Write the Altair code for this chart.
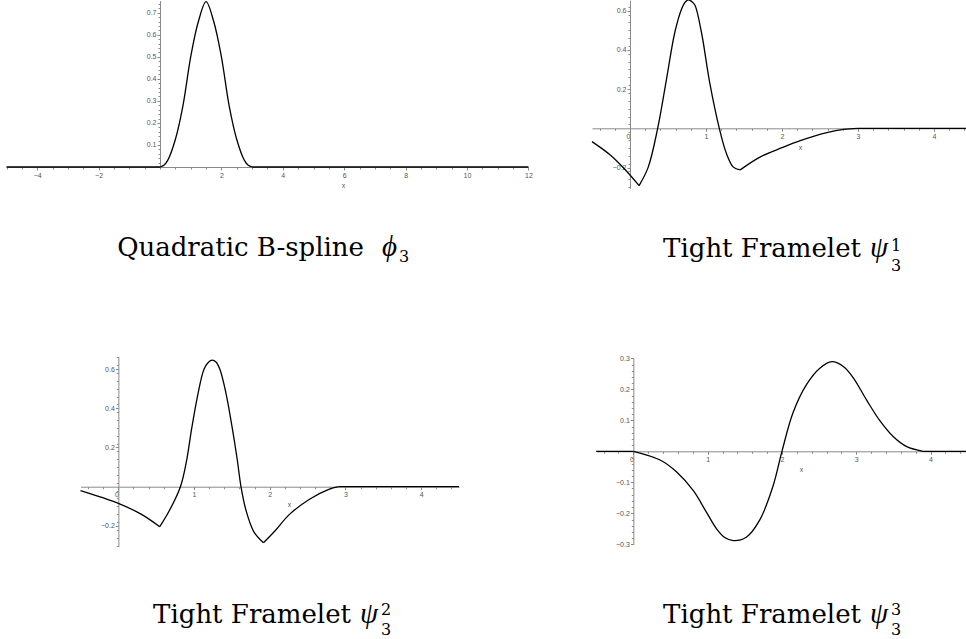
import altair as alt
import pandas as pd

W, H = 966, 639

# ---------------- curve samples ----------------
# Quadratic B-spline phi_3 (flat pieces kept as their own segments)
bspline_x = [-5, 0,
             0, 0.125, 0.25, 0.5, 0.75, 1.0, 1.25, 1.5, 1.75, 2.0, 2.25, 2.5, 2.75, 2.875, 3.0,
             3.0, 12]
bspline_y = [0, 0,
             0, 0.008, 0.03, 0.125, 0.28, 0.5, 0.66, 0.75, 0.66, 0.5, 0.28, 0.125, 0.03, 0.008, 0,
             0, 0]
bspline_seg = [0] * 2 + [1] * 15 + [2] * 2

# Tight framelet psi_3^1 (pieces split at the corners)
psi1_x = [-0.5, -0.26, -0.09, 0.12,
          0.12, 0.24, 0.364, 0.48, 0.59, 0.68, 0.725, 0.77, 0.815, 0.855, 0.94, 1.05, 1.175, 1.27, 1.36, 1.45,
          1.45, 1.71, 2.0, 2.24, 2.59, 2.81, 3.0,
          3.0, 4.5]
psi1_y = [-0.068, -0.136, -0.2, -0.292,
          -0.292, -0.198, 0, 0.25, 0.49, 0.61, 0.643, 0.655, 0.646, 0.628, 0.49, 0.23, 0, -0.13, -0.198, -0.212,
          -0.212, -0.147, -0.099, -0.063, -0.022, -0.005, 0,
          0, 0]
psi1_seg = [0] * 4 + [1] * 16 + [2] * 7 + [3] * 2

# Tight framelet psi_3^2
psi2_x = [-0.5, 0.0, 0.3, 0.547,
          0.547, 0.678, 0.82, 0.9, 0.97, 1.05, 1.13, 1.19, 1.24, 1.29, 1.34, 1.42, 1.5, 1.57, 1.62,
          1.685, 1.79, 1.917,
          1.917, 2.08, 2.25, 2.52, 2.78, 2.91,
          2.91, 4.5]
psi2_y = [-0.02, -0.085, -0.14, -0.204,
          -0.204, -0.119, 0, 0.13, 0.30, 0.47, 0.598, 0.635, 0.646, 0.636, 0.6, 0.48, 0.31, 0.14, 0,
          -0.119, -0.23, -0.286,
          -0.286, -0.221, -0.145, -0.065, -0.014, 0,
          0, 0]
psi2_seg = [0] * 4 + [1] * 18 + [2] * 6 + [3] * 2

# Tight framelet psi_3^3
psi3_x = [-0.5, 0,
          0, 0.36, 0.58, 0.81, 0.987, 1.12, 1.23, 1.345, 1.52, 1.70, 1.88, 2.0, 2.15, 2.33,
          2.51, 2.67, 2.83, 2.96, 3.14, 3.32, 3.5, 3.68, 3.9,
          3.9, 4.5]
psi3_y = [0, 0,
          0, -0.028, -0.066, -0.128, -0.198, -0.25, -0.278, -0.288, -0.277, -0.222, -0.112, 0, 0.125, 0.215,
          0.268, 0.289, 0.273, 0.237, 0.165, 0.098, 0.047, 0.015, 0,
          0, 0]
psi3_seg = [0] * 2 + [1] * 23 + [2] * 2

# ---------------- tick values ----------------
bs_xticks = [-4, -2, 2, 4, 6, 8, 10, 12]
bs_yticks = [0.1, 0.2, 0.3, 0.4, 0.5, 0.6, 0.7]
bs_xminor = [-5 + 0.5 * i for i in range(35)]
bs_yminor = [round(0.02 * i, 2) for i in range(38)]

fr_xticks = [0, 1, 2, 3, 4]
fr_xminor = [round(-0.4 + 0.2 * i, 2) for i in range(25)]
fr_yticks = [-0.2, 0.2, 0.4, 0.6]
fr_yminor = [round(-0.3 + 0.04 * i, 2) for i in range(25)]

psi3_yticks = [-0.3, -0.2, -0.1, 0.1, 0.2, 0.3]
psi3_yminor = [round(-0.3 + 0.02 * i, 2) for i in range(31)]

LABEL_FONT = "Liberation Sans"
AXIS_GRAY = "#8a8a8a"
LABEL_GRAY = "#555555"
SERIF = "DejaVu Serif"
GREEK = "Liberation Serif"


def frame(x, y, seg):
    return pd.DataFrame({"x": x, "y": y, "seg": seg})


def to_px(v, dom, rng):
    return rng[0] + (v - dom[0]) / (dom[1] - dom[0]) * (rng[1] - rng[0])


def panel(df, xdom, xrng, ydom, yrng, xticks, yticks, xminor, yminor, title_x, title_dy):
    x0 = to_px(0, xdom, xrng)
    y0 = to_px(0, ydom, yrng)
    xs = alt.Scale(domain=xdom, range=xrng, nice=False, zero=False)
    ys = alt.Scale(domain=ydom, range=yrng, nice=False, zero=False)
    common = dict(grid=False, labelFont=LABEL_FONT, labelFontSize=7, labelColor=LABEL_GRAY,
                  domainColor=AXIS_GRAY, tickColor=AXIS_GRAY, domainWidth=1, tickWidth=1,
                  labelFlush=False, labelOverlap=False)
    xaxis = alt.Axis(orient="bottom", offset=y0 - H, values=xticks, tickSize=3, labelPadding=1,
                     title="x", titleX=title_x, titleY=title_dy, titleFont=LABEL_FONT,
                     titleFontSize=7, titleFontWeight="normal", titleColor=LABEL_GRAY,
                     titleBaseline="middle", titleAlign="center",
                     labelAlign={"condition": {"test": "datum.value == 0", "value": "right"},
                                 "value": "center"},
                     **common)
    yaxis = alt.Axis(orient="left", offset=-x0, values=yticks, tickSize=3, labelPadding=1,
                     title=None, **common)
    line = alt.Chart(df).mark_line(color="black", strokeWidth=1.3, interpolate="catmull-rom").encode(
        x=alt.X("x:Q", scale=xs, axis=xaxis),
        y=alt.Y("y:Q", scale=ys, axis=yaxis),
        detail="seg:N",
    )
    minor_x = alt.Axis(orient="bottom", offset=y0 - H, values=xminor, labels=False, domain=False,
                       tickSize=2, tickColor=AXIS_GRAY, grid=False, title=None)
    minor_y = alt.Axis(orient="left", offset=-x0, values=yminor, labels=False, domain=False,
                       tickSize=2, tickColor=AXIS_GRAY, grid=False, title=None)
    minor = alt.Chart(df).mark_line(opacity=0).encode(
        x=alt.X("x:Q", scale=xs, axis=minor_x),
        y=alt.Y("y:Q", scale=ys, axis=minor_y),
    )
    return [minor, line]


def text(s, x, y, size=26, align="right", italic=False, font=SERIF):
    return alt.Chart(alt.Data(values=[{}])).mark_text(
        text=s, font=font, fontSize=size, align=align, baseline="alphabetic",
        color="black", fontStyle="italic" if italic else "normal",
    ).encode(x=alt.value(x), y=alt.value(y))


layers = []
layers += panel(frame(bspline_x, bspline_y, bspline_seg), [-5, 12], [6.5, 528.4], [0, 0.755], [167, 0.6],
                bs_xticks, bs_yticks, bs_xminor, bs_yminor, 343, 18)
layers += panel(frame(psi1_x, psi1_y, psi1_seg), [-0.5, 4.5], [592, 972], [-0.306, 0.654], [188.3, 0.1],
                fr_xticks, fr_yticks, fr_xminor, fr_yminor, 800, 19)
layers += panel(frame(psi2_x, psi2_y, psi2_seg), [-0.5, 4.5], [80.5, 459], [-0.306, 0.663], [546.7, 356.7],
                fr_xticks, fr_yticks, fr_xminor, fr_yminor, 289, 18)
layers += panel(frame(psi3_x, psi3_y, psi3_seg), [-0.5, 4.5], [596.2, 967.7], [-0.3, 0.3], [544.3, 358.3],
                fr_xticks, psi3_yticks, fr_xminor, psi3_yminor, 801, 18)

# captions
layers += [
    text("Quadratic B-spline", 364, 256),
    text("\u03d5", 397, 256, size=29, italic=True, font=GREEK),
    text("3", 399, 262, size=16, align="left"),

    text("Tight Framelet", 861, 257),
    text("\u03c8", 888, 257, size=29, italic=True, font=GREEK),
    text("1", 891, 251, size=16, align="left"),
    text("3", 891, 271, size=16, align="left"),

    text("Tight Framelet", 351, 623),
    text("\u03c8", 378, 623, size=29, italic=True, font=GREEK),
    text("2", 381, 615, size=16, align="left"),
    text("3", 381, 635, size=16, align="left"),

    text("Tight Framelet", 861, 623),
    text("\u03c8", 888, 623, size=29, italic=True, font=GREEK),
    text("3", 891, 615, size=16, align="left"),
    text("3", 891, 635, size=16, align="left"),
]

chart = alt.layer(*layers).resolve_scale(x="independent", y="independent").properties(
    width=W, height=H, padding=0, autosize=alt.AutoSizeParams(type="none"),
    background="white",
).configure_view(stroke=None)

chart.save("out.html", embed_options={"renderer": "svg", "actions": False})
